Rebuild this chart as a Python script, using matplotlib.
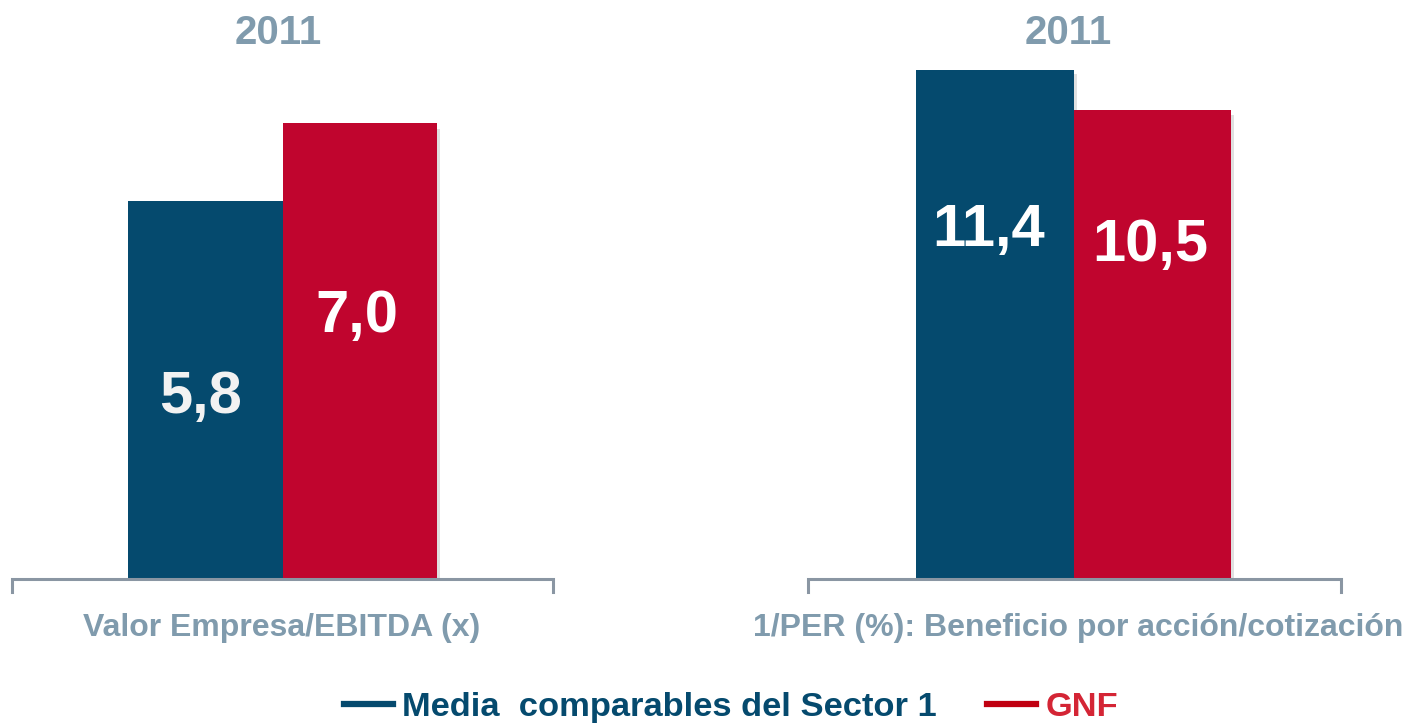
import matplotlib
matplotlib.use("Agg")
import matplotlib.pyplot as plt
from matplotlib.lines import Line2D

plt.rcParams['font.family'] = ['Liberation Sans', 'DejaVu Sans']
plt.rcParams['font.weight'] = 'bold'

# Data
year = "2011"
series = ["Media  comparables del Sector 1", "GNF"]
ev_ebitda = [5.8, 7.0]          # Valor Empresa/EBITDA (x)
inv_per = [11.4, 10.5]          # 1/PER (%)
value_labels_ev = ["5,8", "7,0"]
value_labels_per = ["11,4", "10,5"]
categories = ["Valor Empresa/EBITDA (x)",
              "1/PER (%): Beneficio por acción/cotización"]

# Style
BLUE = "#054A6E"
RED = "#C0052E"
GREY_TXT = "#809BAD"
AXIS_GREY = "#8A96A3"
LEG_RED = "#D42535"
LEG_RED_LINE = "#C00010"

W, H = 1409, 723
fig = plt.figure(figsize=(W / 100, H / 100), dpi=100)

def px_box(x0, x1, y_base, height):
    return [x0 / W, 1 - y_base / H, (x1 - x0) / W, height / H]

AX_H = 554.0
panels = [
    dict(box=(12, 553), base=579, data=ev_ebitda, labels=value_labels_ev,
         ymax=AX_H / 65.15, xlim=(-1.248, 2.248),
         label_xy=[(-0.03, 2.78), (-0.02, 4.03)],
         label_col=["#F2F2F2", "white"]),
    dict(box=(808, 1341), base=579, data=inv_per, labels=value_labels_per,
         ymax=AX_H / 44.65, xlim=(-1.186, 2.198),
         label_xy=[(-0.04, 7.8), (-0.015, 7.47)],
         label_col=["white", "white"]),
]

for p in panels:
    ax = fig.add_axes(px_box(p["box"][0], p["box"][1], p["base"], AX_H))
    ax.set_xlim(*p["xlim"])
    ax.set_ylim(0, p["ymax"])
    ax.axis("off")
    # faint drop shadow behind the bars
    ax.bar([0.02, 1.02], p["data"], width=1.0, bottom=-0.1,
           color="#9A9A9A", alpha=0.3, zorder=1, linewidth=0)
    ax.bar([0, 1], p["data"], width=1.0, color=[BLUE, RED], zorder=2,
           linewidth=0)
    for x, (dx, ly), txt, c in zip([0, 1], p["label_xy"], p["labels"],
                                   p["label_col"]):
        ax.text(x + dx, ly, txt, ha="center", va="center", color=c,
                fontsize=43, fontweight="bold", zorder=3)
    d = 13 / AX_H
    ax.plot([0, 0, 1, 1], [-d, 0, 0, -d], transform=ax.transAxes,
            color=AXIS_GREY, lw=2.2, clip_on=False, zorder=4,
            solid_joinstyle="miter")

# Panel titles
fig.text(278 / W, 1 - 33 / H, year, ha="center", va="center",
         color=GREY_TXT, fontsize=29, fontweight="bold")
fig.text(1068 / W, 1 - 33 / H, year, ha="center", va="center",
         color=GREY_TXT, fontsize=29, fontweight="bold")

# Category labels
fig.text(282 / W, 1 - 628 / H, categories[0], ha="center", va="center",
         color=GREY_TXT, fontsize=23, fontweight="bold")
fig.text(1078 / W, 1 - 628 / H, categories[1], ha="center", va="center",
         color=GREY_TXT, fontsize=23, fontweight="bold")

# Legend
handles = [Line2D([], [], color=BLUE, lw=4.5),
           Line2D([], [], color=LEG_RED_LINE, lw=4.5)]
leg = fig.legend(handles, series, loc="center",
                 bbox_to_anchor=(731 / W, 1 - 707 / H),
                 ncol=2, frameon=False, prop=dict(size=24.8, weight="bold"),
                 handlelength=1.42, handletextpad=0.28, columnspacing=1.45)
for t, c in zip(leg.get_texts(), [BLUE, LEG_RED]):
    t.set_color(c)

fig.savefig("out.png", dpi=100)
